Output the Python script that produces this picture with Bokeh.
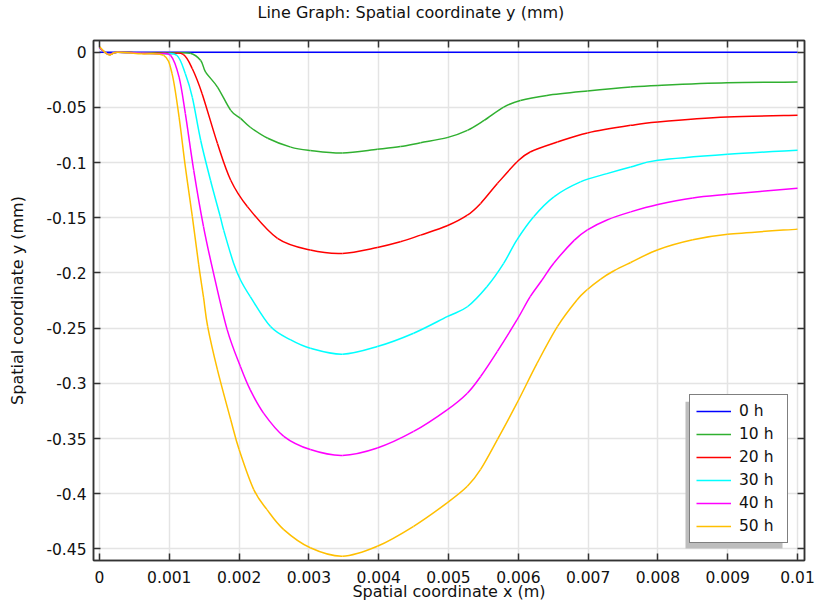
import numpy as np
from bokeh.plotting import figure
from bokeh.models import LinearAxis, FixedTicker, Range1d, Legend, LegendItem, BoxAnnotation
from bokeh.embed import file_html
from bokeh.resources import INLINE

# ---------------- data ----------------
title_text = "Line Graph: Spatial coordinate y (mm)"
series_names = ["0 h", "10 h", "20 h", "30 h", "40 h", "50 h"]
colors = ["#0000ff", "#30b030", "#ff0000", "#00ffff", "#ff00ff", "#ffbf00"]

x_ticks = [0, 0.001, 0.002, 0.003, 0.004, 0.005, 0.006, 0.007, 0.008, 0.009, 0.01]
x_tick_labels = ["0", "0.001", "0.002", "0.003", "0.004", "0.005", "0.006", "0.007", "0.008", "0.009", "0.01"]
y_ticks = [0, -0.05, -0.1, -0.15, -0.2, -0.25, -0.3, -0.35, -0.4, -0.45]
y_tick_labels = ["0", "-0.05", "-0.1", "-0.15", "-0.2", "-0.25", "-0.3", "-0.35", "-0.4", "-0.45"]

# x in mm (converted to m below), y in mm
x_0h_mm = [0.0, 10.0]
y_0h = [0.0, 0.0]

x_10h_mm = [0, 0.13, 0.25, 0.6, 1.0, 1.30, 1.45, 1.52, 1.69, 1.88, 2.02, 2.16, 2.41, 2.74, 3.02,
            3.48, 3.98, 4.31, 4.60, 4.98, 5.27, 5.51, 5.79, 6.03, 6.41, 6.99, 7.61, 8.0, 8.99, 10.0]
y_10h = [0.004, -0.002, 0.0, -0.0005, -0.0007, -0.001, -0.0075, -0.018, -0.0316, -0.0527, -0.060,
         -0.068, -0.078, -0.086, -0.089, -0.0913, -0.088, -0.0855, -0.082, -0.0774, -0.0708, -0.0618,
         -0.0497, -0.0437, -0.0392, -0.0352, -0.0316, -0.0301, -0.0277, -0.0271]

x_20h_mm = [0, 0.13, 0.25, 0.6, 1.0, 1.2, 1.33, 1.47, 1.69, 1.88, 2.12, 2.55, 3.02, 3.48, 3.98,
            4.31, 4.6, 4.98, 5.27, 5.46, 5.70, 5.98, 6.17, 6.56, 6.99, 7.61, 8.0, 8.99, 10.0]
y_20h = [0.004, -0.002, 0.0, -0.0008, -0.0012, -0.002, -0.015, -0.0376, -0.0828, -0.116, -0.140,
         -0.1687, -0.1793, -0.1823, -0.1769, -0.1718, -0.1657, -0.1573, -0.1477, -0.137, -0.119,
         -0.0995, -0.0904, -0.0814, -0.0732, -0.0663, -0.0633, -0.0588, -0.0572]

x_30h_mm = [0, 0.13, 0.25, 0.6, 0.9, 1.11, 1.23, 1.33, 1.45, 1.59, 1.73, 1.78, 1.92, 2.02, 2.16,
            2.45, 2.74, 3.02, 3.48, 3.98, 4.5, 4.98, 5.27, 5.55, 5.79, 5.98, 6.22, 6.51, 6.89, 7.27,
            7.61, 8.0, 9.0, 10.0]
y_30h = [0.004, -0.002, 0.0, -0.001, -0.0015, -0.003, -0.0196, -0.041, -0.08, -0.116, -0.149,
         -0.1614, -0.191, -0.2064, -0.2215, -0.2486, -0.2607, -0.2682, -0.2736, -0.2667, -0.2546,
         -0.2396, -0.2306, -0.2125, -0.1913, -0.170, -0.149, -0.131, -0.1175, -0.110, -0.104,
         -0.098, -0.0925, -0.0889]

x_40h_mm = [0, 0.13, 0.25, 0.6, 0.85, 1.02, 1.14, 1.23, 1.35, 1.49, 1.63, 1.83, 2.02, 2.16, 2.35,
            2.64, 3.02, 3.48, 3.98, 4.5, 4.98, 5.27, 5.46, 5.70, 5.98, 6.17, 6.34, 6.51, 6.80, 6.99,
            7.27, 7.61, 8.0, 8.5, 9.0, 10.0]
y_40h = [0.004, -0.002, 0.0, -0.001, -0.0015, -0.003, -0.0226, -0.0557, -0.107, -0.158, -0.1992,
         -0.2516, -0.285, -0.306, -0.327, -0.348, -0.360, -0.3653, -0.3586, -0.3436, -0.324,
         -0.3089, -0.2938, -0.271, -0.2426, -0.2215, -0.2064, -0.191, -0.1705, -0.161, -0.152,
         -0.1447, -0.138, -0.132, -0.1287, -0.1232]

x_50h_mm = [0, 0.13, 0.25, 0.6, 0.92, 1.04, 1.14, 1.23, 1.33, 1.42, 1.49, 1.55, 1.69, 1.88, 2.0,
            2.21, 2.40, 2.64, 3.02, 3.48, 3.98, 4.5, 4.98, 5.27, 5.46, 5.70, 5.98, 6.27, 6.56, 6.84,
            6.99, 7.18, 7.37, 7.61, 8.0, 8.5, 9.0, 10.0]
y_50h = [0.005, -0.0024, 0.0, -0.0015, -0.003, -0.0196, -0.0588, -0.104, -0.149, -0.192, -0.222,
         -0.2486, -0.2878, -0.333, -0.360, -0.3963, -0.4144, -0.4325, -0.449, -0.4566, -0.4476,
         -0.4295, -0.4083, -0.3933, -0.378, -0.351, -0.318, -0.2817, -0.2486, -0.2245, -0.2150,
         -0.2055, -0.1980, -0.1905, -0.179, -0.170, -0.165, -0.1603]

xs_mm = [x_0h_mm, x_10h_mm, x_20h_mm, x_30h_mm, x_40h_mm, x_50h_mm]
ys = [y_0h, y_10h, y_20h, y_30h, y_40h, y_50h]

# ---------------- figure ----------------
FONT = "DejaVu Sans"
TXT = "#111111"
FRAME = "#333333"

p = figure(width=816, height=603, output_backend="svg", toolbar_location=None,
           x_range=Range1d(-8.6e-5, 0.0101), y_range=Range1d(-0.4605, 0.01058),
           min_border_left=93, min_border_right=12, min_border_top=40, min_border_bottom=42,
           title=title_text + "\n")

p.title.text_font = FONT
p.title.text_font_size = "16px"
p.title.text_font_style = "normal"
p.title.text_color = TXT
p.title.align = "left"
p.title.offset = 164
p.title.standoff = 0

p.outline_line_color = FRAME
p.outline_line_width = 1.5
p.background_fill_color = "white"
p.border_fill_color = "white"

bottom_axis = p.below[0]
left_axis = p.left[0]
top_axis = LinearAxis()
right_axis = LinearAxis()
p.add_layout(top_axis, "above")
p.add_layout(right_axis, "right")

x_overrides = {t: l for t, l in zip(x_ticks, x_tick_labels)}
y_overrides = {t: l for t, l in zip(y_ticks, y_tick_labels)}

for ax in [bottom_axis, top_axis]:
    ax.ticker = FixedTicker(ticks=x_ticks, minor_ticks=[])
for ax in [left_axis, right_axis]:
    ax.ticker = FixedTicker(ticks=y_ticks, minor_ticks=[])

for ax in [bottom_axis, top_axis, left_axis, right_axis]:
    ax.major_tick_in = 7
    ax.major_tick_out = 0
    ax.minor_tick_in = 0
    ax.minor_tick_out = 0
    ax.major_tick_line_color = FRAME
    ax.major_tick_line_width = 1.5
    ax.axis_line_color = FRAME
    ax.axis_line_width = 1.5
    ax.major_label_text_font = FONT
    ax.major_label_text_font_size = "15.5px"
    ax.major_label_text_color = TXT
    ax.axis_label_text_font = FONT
    ax.axis_label_text_font_size = "16px"
    ax.axis_label_text_font_style = "normal"
    ax.axis_label_text_color = TXT

for ax in [top_axis, right_axis]:
    ax.major_label_text_font_size = "0px"
    ax.major_label_text_color = None
    ax.major_label_standoff = 0

bottom_axis.major_label_overrides = x_overrides
left_axis.major_label_overrides = y_overrides
bottom_axis.major_label_standoff = 10
bottom_axis.axis_label = "Spatial coordinate x (m)"
bottom_axis.axis_label_standoff = -4
left_axis.major_label_standoff = 7
left_axis.axis_label = "Spatial coordinate y (mm)"
left_axis.axis_label_standoff = 16

p.xgrid.grid_line_color = "#e4e4e4"
p.xgrid.grid_line_width = 1.5
p.ygrid.grid_line_color = "#e4e4e4"
p.ygrid.grid_line_width = 1.5


def smooth_segments(xv, yv):
    """Catmull-Rom through the read points, expressed as cubic Bezier segments."""
    xv = np.asarray(xv, dtype=float)
    yv = np.asarray(yv, dtype=float)
    px = np.concatenate([[xv[0]], xv, [xv[-1]]])
    py = np.concatenate([[yv[0]], yv, [yv[-1]]])
    n = len(xv) - 1
    x0, y0 = xv[:-1], yv[:-1]
    x1, y1 = xv[1:], yv[1:]
    cx0 = x0 + (px[2:n + 2] - px[0:n]) / 6.0
    cy0 = y0 + (py[2:n + 2] - py[0:n]) / 6.0
    cx1 = x1 - (px[3:n + 3] - px[1:n + 1]) / 6.0
    cy1 = y1 - (py[3:n + 3] - py[1:n + 1]) / 6.0
    return dict(x0=x0, y0=y0, x1=x1, y1=y1, cx0=cx0, cy0=cy0, cx1=cx1, cy1=cy1)


legend_renderers = []
for xm, y, c in zip(xs_mm, ys, colors):
    x_m = np.array(xm) * 1e-3
    seg = smooth_segments(x_m, y)
    p.bezier(x0=seg["x0"], y0=seg["y0"], x1=seg["x1"], y1=seg["y1"],
             cx0=seg["cx0"], cy0=seg["cy0"], cx1=seg["cx1"], cy1=seg["cy1"],
             line_color=c, line_width=1.5)
    # single-point line renderer (draws nothing) used for the legend swatch
    r = p.line(x=[x_m[-1]], y=[y[-1]], line_color=c, line_width=1.5)
    legend_renderers.append(r)

# legend shadow
shadow = BoxAnnotation(left=0.008395, right=0.009785, top=-0.3167, bottom=-0.4496,
                       fill_color="#bdbdbd", fill_alpha=1.0, line_color=None)
p.add_layout(shadow)

legend = Legend(items=[LegendItem(label=n, renderers=[r]) for n, r in zip(series_names, legend_renderers)],
                location=(596, 17), padding=6, spacing=3, margin=0,
                glyph_width=35, glyph_height=20, label_height=20, label_width=42,
                label_standoff=8, border_line_color="black", border_line_width=1,
                background_fill_color="white", background_fill_alpha=1.0,
                label_text_font=FONT, label_text_font_size="15.5px", label_text_color=TXT)
p.add_layout(legend, "center")

open("out.html", "w").write(file_html(p, INLINE))
